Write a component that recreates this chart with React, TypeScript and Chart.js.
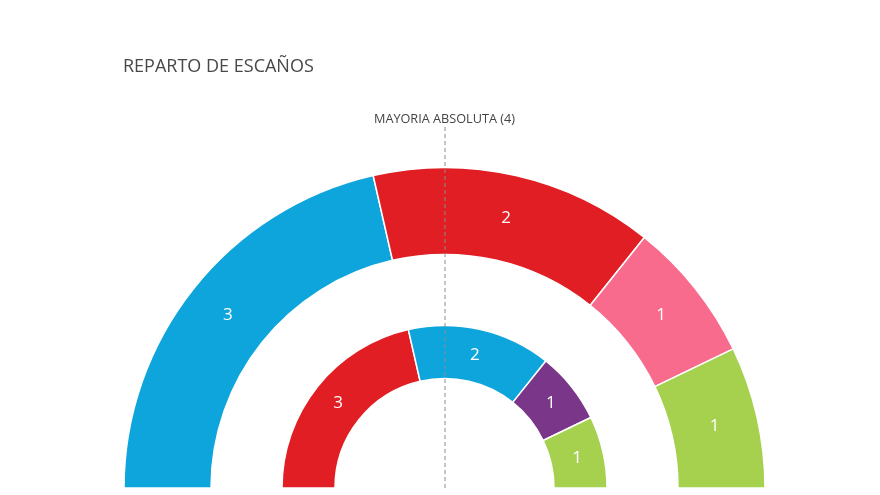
import React, { useEffect, useRef } from "react";
import { Chart, registerables } from "chart.js";

Chart.register(...registerables);

// Outer ring (first election)
const outerParties = ["Azul", "Rojo", "Rosa", "Verde"];
const outerSeats = [3, 2, 1, 1];
const outerColors = ["#0ea5dd", "#e01e24", "#f86b8d", "#a5d14f"];

// Inner ring (second election)
const innerParties = ["Rojo", "Azul", "Morado", "Verde"];
const innerSeats = [3, 2, 1, 1];
const innerColors = ["#e01e24", "#0ea5dd", "#7a3688", "#a5d14f"];

const titleText = "REPARTO DE ESCAÑOS";
const majorityText = "MAYORIA ABSOLUTA (4)";

const labelPlugin = {
  id: "seatLabels",
  afterDraw(chart: any) {
    const ctx = chart.ctx;
    ctx.save();
    // segment labels
    ctx.fillStyle = "#ffffff";
    ctx.font = '17px "Open Sans", sans-serif';
    ctx.textAlign = "center";
    ctx.textBaseline = "middle";
    chart.data.datasets.forEach((ds: any, di: number) => {
      if (ds.isSpacer) return;
      const meta = chart.getDatasetMeta(di);
      meta.data.forEach((arc: any, i: number) => {
        const p = arc.tooltipPosition();
        ctx.fillText(String(ds.data[i]), p.x, p.y);
      });
    });
    // majority line
    const meta0 = chart.getDatasetMeta(0);
    const arc0 = meta0.data[0];
    const cx = arc0.x;
    const cy = arc0.y;
    ctx.strokeStyle = "#8c8c8c";
    ctx.lineWidth = 1;
    ctx.setLineDash([4, 3]);
    ctx.beginPath();
    ctx.moveTo(cx + 0.5, 127);
    ctx.lineTo(cx + 0.5, cy);
    ctx.stroke();
    ctx.setLineDash([]);
    ctx.fillStyle = "#444444";
    ctx.font = '12.7px "Open Sans", sans-serif';
    ctx.textBaseline = "alphabetic";
    ctx.fillText(majorityText, cx, 123);
    // title
    ctx.textAlign = "left";
    ctx.fillStyle = "#484848";
    ctx.font = '18px "Open Sans", sans-serif';
    ctx.fillText(titleText, 123, 72);
    ctx.restore();
  },
};

export default function App() {
  const ref = useRef<HTMLCanvasElement | null>(null);
  useEffect(() => {
    if (!ref.current) return;
    const chart = new Chart(ref.current, {
      type: "doughnut",
      data: {
        labels: outerParties,
        datasets: [
          {
            label: "Exterior",
            data: outerSeats,
            backgroundColor: outerColors,
            borderColor: "#ffffff",
            borderWidth: 1.5,
            weight: 87,
          } as any,
          {
            label: "spacer",
            data: [1],
            backgroundColor: "rgba(0,0,0,0)",
            borderWidth: 0,
            weight: 71,
            isSpacer: true,
          } as any,
          {
            label: "Interior",
            data: innerSeats,
            backgroundColor: innerColors,
            borderColor: "#ffffff",
            borderWidth: 1.5,
            weight: 53,
            partyLabels: innerParties,
          } as any,
        ],
      },
      options: {
        animation: false,
        responsive: true,
        maintainAspectRatio: false,
        rotation: -90,
        circumference: 180,
        cutout: "34.17%",
        layout: {
          padding: { left: 123.25, right: 114.25, top: 166.75, bottom: 6.25 },
        },
        plugins: {
          legend: { display: false },
          title: { display: false },
          tooltip: { enabled: false },
        },
      },
      plugins: [labelPlugin],
    });
    return () => chart.destroy();
  }, []);
  return (
    <div
      style={{
        position: "fixed",
        left: 0,
        top: 0,
        width: 880,
        height: 495,
        background: "#ffffff",
      }}
    >
      <canvas ref={ref} />
    </div>
  );
}
